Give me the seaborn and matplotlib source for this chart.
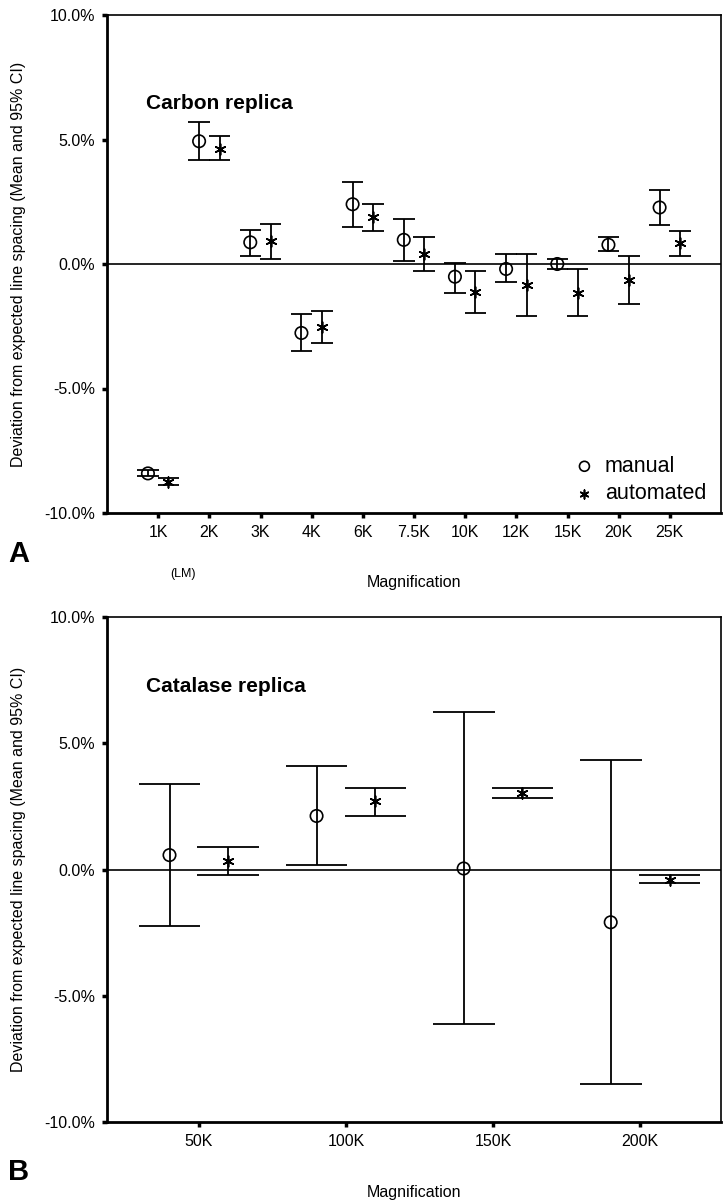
import numpy as np
import pandas as pd
import seaborn as sns
import matplotlib.pyplot as plt
from matplotlib.ticker import PercentFormatter

# datos (desviacion en %)
carbon_mags = ['1K', '2K', '3K', '4K', '6K', '7.5K', '10K', '12K', '15K', '20K', '25K']
carbon_manual_mean = [-8.41, 4.93, 0.87, -2.77, 2.40, 0.97, -0.51, -0.20, 0.00, 0.77, 2.27]
carbon_manual_lo = [-8.53, 4.16, 0.33, -3.50, 1.49, 0.13, -1.16, -0.71, -0.20, 0.52, 1.56]
carbon_manual_hi = [-8.26, 5.71, 1.37, -2.00, 3.31, 1.80, 0.04, 0.39, 0.20, 1.09, 2.99]
carbon_auto_mean = [-8.74, 4.60, 0.91, -2.53, 1.87, 0.40, -1.11, -0.84, -1.17, -0.64, 0.83]
carbon_auto_lo = [-8.86, 4.16, 0.20, -3.19, 1.31, -0.27, -1.95, -2.07, -2.07, -1.61, 0.32]
carbon_auto_hi = [-8.60, 5.13, 1.61, -1.89, 2.40, 1.09, -0.27, 0.39, -0.20, 0.32, 1.31]

catalase_mags = ['50K', '100K', '150K', '200K']
catalase_manual_mean = [0.57, 2.12, 0.04, -2.09]
catalase_manual_lo = [-2.23, 0.18, -6.11, -8.51]
catalase_manual_hi = [3.37, 4.10, 6.23, 4.33]
catalase_auto_mean = [0.32, 2.71, 3.04, -0.41]
catalase_auto_lo = [-0.21, 2.12, 2.85, -0.54]
catalase_auto_hi = [0.89, 3.24, 3.24, -0.21]

sns.set_style('ticks')
plt.rcParams['font.family'] = ['Liberation Sans', 'DejaVu Sans']
plt.rcParams['axes.unicode_minus'] = False
for k in ['text.color', 'axes.labelcolor', 'xtick.color', 'ytick.color', 'axes.edgecolor']:
    plt.rcParams[k] = 'black'

fig = plt.figure(figsize=(7.23, 12.03), dpi=100)
W, H = 723, 1203


def panel(ax, mags, mm, mlo, mhi, am, alo, ahi, xlim, title, title_y, legend=False):
    idx = np.arange(len(mags))
    df = pd.concat([
        pd.DataFrame({'pos': idx - 0.2, 'mean': mm, 'lo': mlo, 'hi': mhi, 'method': 'manual'}),
        pd.DataFrame({'pos': idx + 0.2, 'mean': am, 'lo': alo, 'hi': ahi, 'method': 'automated'}),
    ], ignore_index=True)

    ax.axhline(0, color='black', lw=1.2, zorder=1)
    # barras de error con caps anchos (en unidades de datos)
    ax.vlines(df['pos'], df['lo'], df['hi'], color='black', lw=1.3, zorder=2)
    ax.hlines(df['lo'], df['pos'] - 0.21, df['pos'] + 0.21, color='black', lw=1.3, zorder=2)
    ax.hlines(df['hi'], df['pos'] - 0.21, df['pos'] + 0.21, color='black', lw=1.3, zorder=2)

    man = df[df['method'] == 'manual']
    aut = df[df['method'] == 'automated']
    sns.scatterplot(data=man, x='pos', y='mean', marker='o', s=80, facecolor='none',
                    edgecolor='black', linewidth=1.2, label='manual', ax=ax, zorder=3)
    sns.scatterplot(data=aut, x='pos', y='mean', marker=(6, 2, 0), s=60, color='black',
                    linewidth=1.2, label='automated', ax=ax, zorder=3)

    ax.set_xlim(*xlim)
    ax.set_ylim(-10, 10)
    ax.set_xticks(idx)
    ax.set_xticklabels(mags)
    ax.set_yticks([-10, -5, 0, 5, 10])
    ax.yaxis.set_major_formatter(PercentFormatter(xmax=100, decimals=1))
    ax.tick_params(axis='both', direction='out', length=3.5, width=2.5, labelsize=11.5,
                   color='black', labelcolor='black', pad=5)
    for s in ['left', 'bottom']:
        ax.spines[s].set_linewidth(2.0)
    for s in ['top', 'right']:
        ax.spines[s].set_linewidth(1.2)

    ax.set_ylabel('Deviation from expected line spacing (Mean and 95% CI)', fontsize=11.5)
    ax.set_xlabel('Magnification', fontsize=11.5, va='top')
    ax.text(0.064, title_y, title, transform=ax.transAxes, fontsize=15,
            fontweight='bold', va='center', ha='left')

    if legend:
        ax.legend(loc='lower right', bbox_to_anchor=(0.99, 0.0), frameon=False,
                  fontsize=15.5, handlelength=0.8, handletextpad=0.55,
                  labelspacing=0.3, borderaxespad=0.0, markerscale=0.8)
    else:
        leg = ax.get_legend()
        if leg is not None:
            leg.remove()


# panel A
axA = fig.add_axes([107 / W, 1 - 513 / H, 614 / W, 498 / H])
panel(axA, carbon_mags, carbon_manual_mean, carbon_manual_lo, carbon_manual_hi,
      carbon_auto_mean, carbon_auto_lo, carbon_auto_hi, (-1, 11),
      'Carbon replica', 0.823, legend=True)
axA.xaxis.set_label_coords(0.5, -62 / 498)
axA.yaxis.set_label_coords(-0.132, 0.5)

# panel B
axB = fig.add_axes([107 / W, 1 - 1122 / H, 614 / W, 505 / H])
panel(axB, catalase_mags, catalase_manual_mean, catalase_manual_lo, catalase_manual_hi,
      catalase_auto_mean, catalase_auto_lo, catalase_auto_hi, (-0.625, 3.55),
      'Catalase replica', 0.862)
axB.xaxis.set_label_coords(0.5, -63 / 505)
axB.yaxis.set_label_coords(-0.132, 0.5)

fig.text(8 / W, 1 - 554 / H, 'A', fontsize=21, fontweight='bold', va='center', ha='left')
fig.text(8 / W, 1 - 1172 / H, 'B', fontsize=21, fontweight='bold', va='center', ha='left')
fig.text(183 / W, 1 - 574 / H, '(LM)', fontsize=9, va='center', ha='center')

fig.savefig('out.png', dpi=100)
